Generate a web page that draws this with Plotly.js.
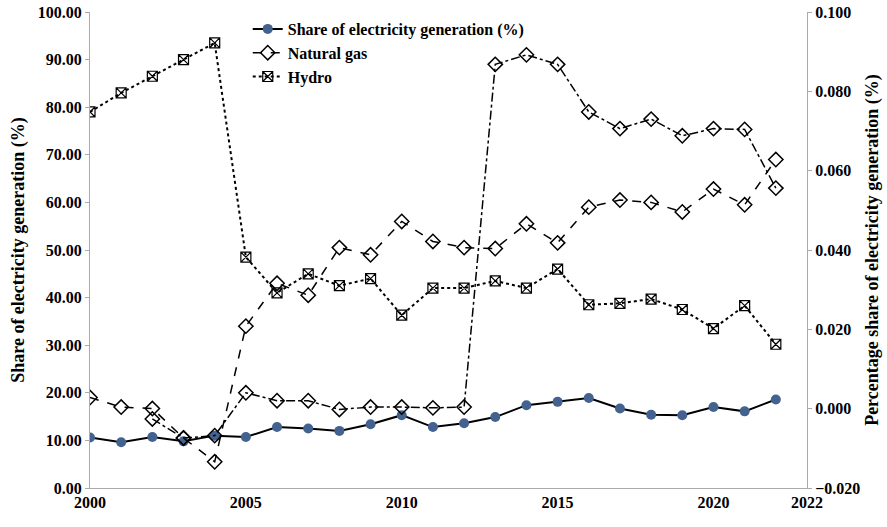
<!DOCTYPE html>
<html>
<head>
<meta charset="utf-8">
<script src="https://cdn.plot.ly/plotly-3.0.1.min.js"></script>
<style>body{margin:0;background:#fff}#plot{width:887px;height:527px}</style>
</head>
<body>
<div id="plot"></div>
<script>
const years = [2000,2001,2002,2003,2004,2005,2006,2007,2008,2009,2010,2011,2012,2013,2014,2015,2016,2017,2018,2019,2020,2021,2022];
const share = [10.6,9.6,10.7,9.8,11.0,10.7,12.8,12.5,12.0,13.4,15.3,12.8,13.6,14.9,17.4,18.1,18.9,16.7,15.4,15.3,17.0,16.1,18.6];
const gas = [19.0,17.0,16.7,10.5,5.5,34.0,43.0,40.5,50.5,49.0,56.0,51.8,50.5,50.3,55.5,51.5,59.0,60.5,60.0,58.0,62.8,59.5,69.0];
const hydro = [79.0,83.0,86.5,90.0,93.5,48.5,41.0,45.0,42.5,44.0,36.3,42.0,42.0,43.5,42.0,46.0,38.5,38.8,39.7,37.5,33.5,38.3,30.2];
// percentage share, right axis
const pctYears = [2002,2003,2004,2005,2006,2007,2008,2009,2010,2011,2012,2013,2014,2015,2016,2017,2018,2019,2020,2021,2022];
const pctShare = [-0.0026,-0.0074,-0.0068,0.004,0.002,0.002,-0.0002,0.0004,0.0004,0.0002,0.0004,0.0868,0.0892,0.0868,0.0748,0.0706,0.073,0.0688,0.0706,0.0704,0.0556];
const xTicks = [2000,2005,2010,2015,2020,2023];
const xTickText = ["2000","2005","2010","2015","2020","2022"];

const font = {family: "Liberation Serif, Times New Roman, serif", size: 15, color: "#000"};

const traces = [
    {x: years, y: share, name: "Share of electricity generation (%)", mode: "lines+markers",
     line: {color: "#000", width: 2}, marker: {color: "#44628f", size: 10}},
    {x: years, y: gas, name: "Natural gas", mode: "lines+markers",
     line: {color: "#000", width: 1.5, dash: "dash"},
     marker: {symbol: "diamond-open", color: "#000", size: 11, line: {width: 1.5}}},
    {x: years, y: hydro, name: "Hydro", mode: "lines+markers",
     line: {color: "#000", width: 2, dash: "dot"},
     marker: {symbol: "square-x-open", color: "#000", size: 10, line: {width: 1.2}}},
    {x: pctYears, y: pctShare, name: "Percentage share", showlegend: false, yaxis: "y2", mode: "lines+markers",
     line: {color: "#000", width: 1.5, dash: "dashdot"},
     marker: {symbol: "diamond-open", color: "#000", size: 11, line: {width: 1.5}}}
];

const layout = {
    width: 887, height: 527,
    margin: {l: 90, r: 80, t: 12, b: 39},
    paper_bgcolor: "#fff", plot_bgcolor: "#fff",
    font: font,
    showlegend: true,
    legend: {x: 0.22, y: 1.0, xanchor: "left", yanchor: "top", bgcolor: "rgba(0,0,0,0)",
             font: {family: font.family, size: 16, color: "#000", weight: "bold"}, tracegroupgap: 4},
    xaxis: {range: [2000, 2023], tickvals: xTicks, ticktext: xTickText, showgrid: false, zeroline: false,
            showline: true, linecolor: "#aaa", ticks: "outside", ticklen: 0,
            tickfont: {family: font.family, size: 16, color: "#000", weight: "bold"}},
    yaxis: {range: [0, 100], dtick: 10, tickformat: ".2f", showgrid: false, zeroline: false,
            showline: true, linecolor: "#aaa", ticks: "outside", ticklen: 4, tickcolor: "#aaa",
            tickfont: {family: font.family, size: 16, color: "#000", weight: "bold"},
            title: {text: "Share of electricity generation (%)", standoff: 8,
                    font: {family: font.family, size: 18, color: "#000", weight: "bold"}}},
    yaxis2: {range: [-0.02, 0.1], dtick: 0.02, tickformat: ".3f", overlaying: "y", side: "right",
             showgrid: false, zeroline: false, showline: true, linecolor: "#aaa", ticks: "outside",
             ticklen: 4, tickcolor: "#aaa",
             tickfont: {family: font.family, size: 16, color: "#000", weight: "bold"},
             title: {text: "Percentage share of electricity generation (%)", standoff: 6,
                     font: {family: font.family, size: 18, color: "#000", weight: "bold"}}}
};

Plotly.newPlot("plot", traces, layout, {displayModeBar: false, staticPlot: true});
</script>
</body>
</html>
